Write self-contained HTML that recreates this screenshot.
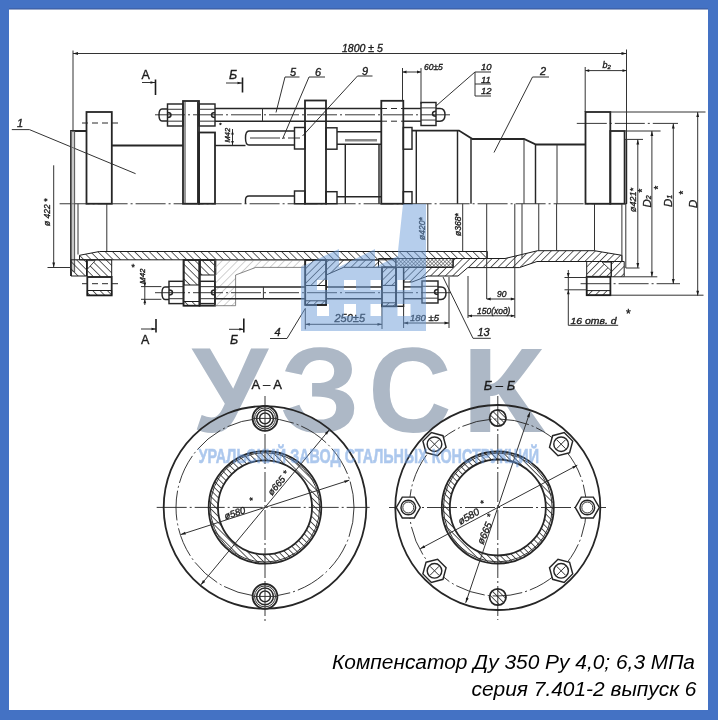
<!DOCTYPE html>
<html><head><meta charset="utf-8">
<style>
html,body{margin:0;padding:0;background:#fff;}
body{width:718px;height:720px;overflow:hidden;position:relative;}
svg{position:absolute;left:0;top:0;display:block;will-change:transform;}
.l{stroke:#262626;stroke-width:1.45;fill:none;}
.b{stroke:#262626;stroke-width:1.8;fill:none;}
.t{stroke:#333;stroke-width:1.0;fill:none;}
.c{stroke:#222;stroke-width:0.9;fill:none;stroke-dasharray:30 3 2 3;}
.d{stroke:#2a2a2a;stroke-width:1;fill:none;stroke-dasharray:6 4;}
.h1{fill:url(#h1);stroke:#1c1c1c;stroke-width:1;}
.h2{fill:url(#h2);stroke:#1c1c1c;stroke-width:1;}
.hf{fill:url(#h3);stroke:#555;stroke-width:0.7;}
.x{fill:url(#hx);stroke:#1c1c1c;stroke-width:1;}
.tx{font-family:"Liberation Sans",sans-serif;font-style:italic;fill:#1c1c1c;stroke:#1c1c1c;stroke-width:0.35;}
.wm{font-family:"Liberation Sans",sans-serif;font-weight:bold;}
.cap{position:absolute;right:23px;font-family:"Liberation Sans",sans-serif;font-style:italic;color:#000;white-space:nowrap;}
</style></head>
<body>
<svg width="718" height="720" viewBox="0 0 718 720">
<defs>
<pattern id="h1" width="5.2" height="5.2" patternUnits="userSpaceOnUse" patternTransform="rotate(-45)"><line x1="0" y1="0" x2="0" y2="5.2" stroke="#1c1c1c" stroke-width="1.35"/></pattern>
<pattern id="h2" width="5.2" height="5.2" patternUnits="userSpaceOnUse" patternTransform="rotate(45)"><line x1="0" y1="0" x2="0" y2="5.2" stroke="#1c1c1c" stroke-width="1.35"/></pattern>
<pattern id="h3" width="5.5" height="5.5" patternUnits="userSpaceOnUse" patternTransform="rotate(45)"><line x1="0" y1="0" x2="0" y2="5.5" stroke="#999" stroke-width="0.9"/></pattern>
<pattern id="hx" width="2.6" height="2.6" patternUnits="userSpaceOnUse" patternTransform="rotate(45)"><rect width="2.6" height="2.6" fill="#fff"/><line x1="0" y1="0" x2="0" y2="2.6" stroke="#222" stroke-width="0.9"/><line x1="0" y1="0" x2="2.6" y2="0" stroke="#222" stroke-width="0.9"/></pattern>
<pattern id="h4" width="4.4" height="4.4" patternUnits="userSpaceOnUse" patternTransform="rotate(-45)"><line x1="0" y1="0" x2="0" y2="4.4" stroke="#1c1c1c" stroke-width="1.45"/></pattern>
</defs>
<!-- border -->
<rect x="0" y="0" width="718" height="720" fill="#4472c4"/>
<rect x="9" y="9" width="699" height="701" fill="#fff"/>
<rect x="9" y="8.4" width="699" height="1.2" fill="#3a5796" opacity="0.85"/>

<!-- WATERMARK (under drawing) -->
<g id="wm">
<text class="wm" fill="#adb8c6" font-size="121" transform="translate(191.5,431.5) scale(1.014,1)">У</text>
<text class="wm" fill="#adb8c6" font-size="121" transform="translate(280.1,431.5) scale(1.056,1)">З</text>
<text class="wm" fill="#adb8c6" font-size="121" transform="translate(368.3,431.5) scale(0.954,1)">С</text>
<text class="wm" fill="#adb8c6" font-size="121" transform="translate(461.2,431.5) scale(1.136,1)">К</text>
</g>

<!-- TOP DRAWING -->
<g id="top">
<line class="t" x1="73" y1="53.5" x2="626.5" y2="53.5"/>
<path d="M73.0,53.5 L78.0,52.1 L78.0,54.9 Z" fill="#1c1c1c"/>
<path d="M626.5,53.5 L621.5,54.9 L621.5,52.1 Z" fill="#1c1c1c"/>
<line class="t" x1="73" y1="50.5" x2="73" y2="131"/>
<line class="t" x1="626.5" y1="49.5" x2="626.5" y2="204"/>
<text class="tx" x="342" y="51.5" font-size="10.5" text-anchor="start">1800 ± 5</text>
<line class="t" x1="585.2" y1="70.6" x2="626.5" y2="70.6"/>
<path d="M585.2,70.6 L589.2,69.2 L589.2,72.0 Z" fill="#1c1c1c"/>
<path d="M626.5,70.6 L622.5,72.0 L622.5,69.2 Z" fill="#1c1c1c"/>
<line class="t" x1="585.2" y1="67" x2="585.2" y2="112"/>
<text class="tx" x="602.5" y="68.3" font-size="9" text-anchor="start">b<tspan font-size="6" dy="1">2</tspan></text>
<line class="t" x1="402.5" y1="72" x2="421" y2="72"/>
<path d="M402.5,72.0 L406.5,70.6 L406.5,73.4 Z" fill="#1c1c1c"/>
<path d="M421.0,72.0 L417.0,73.4 L417.0,70.6 Z" fill="#1c1c1c"/>
<line class="t" x1="402.5" y1="68" x2="402.5" y2="100.8"/>
<line class="t" x1="421" y1="68" x2="421" y2="104"/>
<text class="tx" x="424" y="70.2" font-size="8.5" text-anchor="start">60±5</text>
<text class="tx" x="141.5" y="79" font-size="12.5" text-anchor="start"><tspan font-style="normal">A</tspan></text>
<line class="t" x1="142" y1="82.5" x2="155" y2="82.5"/>
<path d="M155.0,82.5 L150.5,83.8 L150.5,81.2 Z" fill="#1c1c1c"/>
<line x1="155.5" y1="79.5" x2="155.5" y2="95" stroke="#1c1c1c" stroke-width="1.6"/>
<text class="tx" x="229" y="79" font-size="12.5" text-anchor="start">Б</text>
<line class="t" x1="226" y1="83" x2="242" y2="83"/>
<path d="M242.0,83.0 L237.5,84.3 L237.5,81.7 Z" fill="#1c1c1c"/>
<line x1="242.5" y1="77.5" x2="242.5" y2="92.5" stroke="#1c1c1c" stroke-width="1.6"/>
<text class="tx" x="141" y="344" font-size="12.5" text-anchor="start"><tspan font-style="normal">A</tspan></text>
<line class="t" x1="141" y1="329" x2="156" y2="329"/>
<path d="M156.0,329.0 L151.5,330.3 L151.5,327.7 Z" fill="#1c1c1c"/>
<line x1="156" y1="319" x2="156" y2="332.5" stroke="#1c1c1c" stroke-width="1.6"/>
<text class="tx" x="230" y="344.3" font-size="12.5" text-anchor="start">Б</text>
<line class="t" x1="229" y1="329.3" x2="243.8" y2="329.3"/>
<path d="M243.8,329.3 L239.3,330.6 L239.3,328.0 Z" fill="#1c1c1c"/>
<line x1="243.8" y1="318.4" x2="243.8" y2="332.6" stroke="#1c1c1c" stroke-width="1.6"/>
<text class="tx" x="17" y="126.5" font-size="11" text-anchor="start">1</text>
<line class="t" x1="11.8" y1="129.6" x2="29.4" y2="129.6"/>
<line class="t" x1="29.4" y1="129.6" x2="135.6" y2="173.7"/>
<text class="tx" x="290" y="75.5" font-size="11" text-anchor="start">5</text>
<line class="t" x1="285" y1="77" x2="299.5" y2="77"/>
<line class="t" x1="285" y1="77" x2="276" y2="112.5"/>
<text class="tx" x="315" y="75.5" font-size="11" text-anchor="start">6</text>
<line class="t" x1="309" y1="77" x2="325" y2="77"/>
<line class="t" x1="309" y1="77" x2="282.5" y2="139"/>
<text class="tx" x="362" y="74.5" font-size="11" text-anchor="start">9</text>
<line class="t" x1="357.5" y1="76" x2="372.5" y2="76"/>
<line class="t" x1="357.5" y1="76" x2="302.5" y2="136"/>
<text class="tx" x="540" y="74.8" font-size="11" text-anchor="start">2</text>
<line class="t" x1="532.5" y1="77" x2="549" y2="77"/>
<line class="t" x1="532.5" y1="77" x2="494" y2="152.5"/>
<text class="tx" x="274.5" y="336" font-size="11" text-anchor="start">4</text>
<line class="t" x1="270" y1="338.5" x2="287" y2="338.5"/>
<line class="t" x1="287" y1="338.5" x2="305.3" y2="308.4"/>
<text class="tx" x="477.5" y="335.8" font-size="11" text-anchor="start">13</text>
<line class="t" x1="473" y1="338.3" x2="490.8" y2="338.3"/>
<line class="t" x1="473" y1="338.3" x2="443" y2="277"/>
<text class="tx" x="481" y="70" font-size="9.5" text-anchor="start">10</text>
<text class="tx" x="481" y="82.5" font-size="9.5" text-anchor="start">11</text>
<text class="tx" x="481" y="94.2" font-size="9.5" text-anchor="start">12</text>
<line class="t" x1="475" y1="72" x2="491" y2="72"/>
<line class="t" x1="475" y1="84" x2="491" y2="84"/>
<line class="t" x1="475" y1="96" x2="491" y2="96"/>
<line class="t" x1="475" y1="72" x2="475" y2="96"/>
<line class="t" x1="475" y1="72" x2="436" y2="106"/>
<line class="c" x1="59.6" y1="203.75" x2="628" y2="203.75"/>
<path class="b" d="M71,276 L71,131 L86.5,131"/>
<line class="t" x1="74.6" y1="131" x2="74.6" y2="272"/>
<rect x="71" y="131" width="3.6" height="141" fill="#999" opacity="0.55"/>
<rect class="b" x="86.5" y="112" width="25.3" height="91.75"/>
<line class="d" x1="82" y1="123" x2="121" y2="123"/>
<line class="b" x1="111.8" y1="145.5" x2="183" y2="145.5"/>
<line class="t" x1="78" y1="203.75" x2="78" y2="254.5"/>
<line class="t" x1="106.8" y1="203.75" x2="106.8" y2="251.5"/>
<path class="h1" d="M79.5,255.3 L99.4,251.5 L487.3,251.5 L487.3,258.5 L427.8,258.5 L427.8,259.8 L79.5,259.8 Z"/>
<path class="h1" d="M71,259.8 L86.5,259.8 L86.5,276 L71,276 Z"/>
<path class="h1" d="M87.3,259.8 L111.7,259.8 L111.7,277 L87.3,277 Z"/>
<rect class="b" x="87.3" y="277" width="24.4" height="18.4"/>
<path class="h1" d="M87.3,290.5 L111.7,290.5 L111.7,295.4 L87.3,295.4 Z"/>
<line class="d" x1="82" y1="283.7" x2="122" y2="283.7"/>
<line class="t" x1="53.7" y1="165.3" x2="53.7" y2="267.5"/>
<path d="M53.7,267.5 L52.3,262.5 L55.1,262.5 Z" fill="#1c1c1c"/>
<line class="t" x1="47.5" y1="267.5" x2="71" y2="267.5"/>
<text class="tx" x="50" y="226" font-size="8.5" text-anchor="start" transform="rotate(-90,50,226)">ø 422 *</text>
<rect class="b" x="183" y="101" width="16" height="102.75"/>
<rect class="b" x="199" y="132.5" width="16" height="71.25"/>
<path class="h1" d="M184,259.8 L199.2,259.8 L199.2,285 L184,285 Z"/>
<path class="h1" d="M200.2,259.8 L215.8,259.8 L215.8,275 L200.2,275 Z"/>
<path class="l" d="M167.5,109 L162,109 Q159,109 159,115 Q159,121 162,121 L167.5,121"/>
<rect class="l" x="167.5" y="104" width="15.5" height="22"/>
<rect class="l" x="199" y="104" width="16" height="22"/>
<line class="l" x1="215" y1="108.5" x2="381" y2="108.5"/>
<line class="l" x1="215" y1="121.2" x2="381" y2="121.2"/>
<line class="t" x1="262.5" y1="108.5" x2="262.5" y2="121.2"/>
<line class="d" x1="381" y1="108.5" x2="403" y2="108.5"/>
<line class="d" x1="381" y1="121.2" x2="403" y2="121.2"/>
<line class="l" x1="403" y1="108.5" x2="421" y2="108.5"/>
<line class="l" x1="403" y1="121.2" x2="421" y2="121.2"/>
<line class="c" x1="155" y1="114.8" x2="450" y2="114.8"/>
<rect class="l" x="421" y="102.5" width="15" height="23"/>
<path class="l" d="M436,108.5 L440,108.5 Q445,108.5 445,114.8 Q445,121.2 440,121.2 L436,121.2"/>
<rect class="b" x="305" y="100.5" width="21" height="103.25"/>
<path class="l" d="M294.5,131 L249,131 Q245.5,131 245.5,138 Q245.5,145 249,145 L294.5,145"/>
<line class="l" x1="215" y1="145.5" x2="245.5" y2="145.5"/>
<rect class="l" x="294.5" y="127.5" width="10.5" height="21.5"/>
<rect class="l" x="326" y="127.8" width="11" height="21.4"/>
<line class="l" x1="337" y1="131.7" x2="381" y2="131.7"/>
<line class="l" x1="337" y1="144.2" x2="381" y2="144.2"/>
<rect x="345" y="139" width="32" height="2.5" fill="#888"/>
<line class="l" x1="345.3" y1="144.2" x2="345.3" y2="203.75"/>
<line class="l" x1="379" y1="144.2" x2="379" y2="203.75"/>
<line class="c" x1="250" y1="138" x2="300" y2="138"/>
<path class="l" d="M294.5,196 L249,196 Q245.5,196 245.5,200 L245.5,203.75"/>
<rect class="l" x="294.5" y="191" width="10.5" height="12.75"/>
<rect class="l" x="326" y="191.7" width="11" height="12"/>
<line class="l" x1="337" y1="196.7" x2="381" y2="196.7"/>
<rect class="b" x="381.3" y="100.8" width="22" height="102.95"/>
<rect class="l" x="403.3" y="127.5" width="8.7" height="21.7"/>
<rect class="l" x="403.3" y="191.7" width="8.7" height="12"/>
<path class="b" d="M412,130.6 L459,130.6 L472.5,139 L524,139 L536,144.5 L585.5,144.5"/>
<line class="l" x1="416.3" y1="130.6" x2="416.3" y2="203.75"/>
<line class="l" x1="457.5" y1="130.6" x2="457.5" y2="203.75"/>
<line class="l" x1="471" y1="139" x2="471" y2="203.75"/>
<line class="t" x1="524" y1="139" x2="524" y2="203.75"/>
<line class="l" x1="535.5" y1="144.5" x2="535.5" y2="203.75"/>
<line class="t" x1="557" y1="144.5" x2="557" y2="203.75"/>
<rect class="b" x="585.5" y="112" width="24.8" height="91.75"/>
<rect class="b" x="610.3" y="131" width="14.3" height="72.75"/>
<line class="l" x1="626.5" y1="139.4" x2="626.5" y2="203.75"/>
<line class="c" x1="576.8" y1="123.4" x2="678" y2="123.4"/>
<line class="t" x1="610.3" y1="112" x2="705.5" y2="112"/>
<line class="t" x1="624.6" y1="131" x2="660.6" y2="131"/>
<line class="t" x1="624.6" y1="139.4" x2="643" y2="139.4"/>
<line class="t" x1="637.8" y1="139.4" x2="637.8" y2="268"/>
<path d="M637.8,139.4 L639.2,144.4 L636.4,144.4 Z" fill="#1c1c1c"/>
<path d="M637.8,268.0 L636.4,263.0 L639.2,263.0 Z" fill="#1c1c1c"/>
<line class="t" x1="651.9" y1="131" x2="651.9" y2="276.75"/>
<path d="M651.9,131.0 L653.3,136.0 L650.5,136.0 Z" fill="#1c1c1c"/>
<path d="M651.9,276.8 L650.5,271.8 L653.3,271.8 Z" fill="#1c1c1c"/>
<line class="t" x1="673.3" y1="123.4" x2="673.3" y2="283.9"/>
<path d="M673.3,123.4 L674.7,128.4 L671.9,128.4 Z" fill="#1c1c1c"/>
<path d="M673.3,283.9 L671.9,278.9 L674.7,278.9 Z" fill="#1c1c1c"/>
<line class="t" x1="697.7" y1="112" x2="697.7" y2="295.7"/>
<path d="M697.7,112.0 L699.1,117.0 L696.3,117.0 Z" fill="#1c1c1c"/>
<path d="M697.7,295.7 L696.3,290.7 L699.1,290.7 Z" fill="#1c1c1c"/>
<text class="tx" x="636" y="212" font-size="9" text-anchor="start" transform="rotate(-90,636,212)">ø421*</text>
<text class="tx" x="650.5" y="207.5" font-size="11.5" text-anchor="start" transform="rotate(-90,650.5,207.5)">D<tspan font-size="7">2</tspan></text>
<text class="tx" x="646" y="193" font-size="10" text-anchor="start" transform="rotate(-90,646,193)">*</text>
<text class="tx" x="671.5" y="207" font-size="11.5" text-anchor="start" transform="rotate(-90,671.5,207)">D<tspan font-size="7">1</tspan></text>
<text class="tx" x="662" y="190" font-size="10" text-anchor="start" transform="rotate(-90,662,190)">*</text>
<text class="tx" x="696.5" y="208" font-size="11.5" text-anchor="start" transform="rotate(-90,696.5,208)">D</text>
<text class="tx" x="687" y="195" font-size="10" text-anchor="start" transform="rotate(-90,687,195)">*</text>
<rect class="b" x="183.5" y="260" width="16.1" height="45.7"/>
<rect class="b" x="199.6" y="260" width="15.3" height="45.7"/>
<path class="h1" d="M183.5,301.5 L199.6,301.5 L199.6,305.7 L183.5,305.7 Z"/>
<path class="hf" d="M214.9,260 L305.2,260 L305.2,267.4 L255.8,267.4 L235.6,275 L235.6,305.7 L214.9,305.7 Z"/>
<path class="h2" d="M326.1,260 L378.5,260 L378.5,267.3 L343.7,267.3 L326.1,275 Z"/>
<path class="h2" d="M305.2,260 L326.1,260 L326.1,285.5 L305.2,285.5 Z"/>
<rect class="b" x="305.2" y="260" width="20.9" height="45"/>
<path class="h2" d="M305.2,300.8 L326.1,300.8 L326.1,305 L305.2,305 Z"/>
<path class="h1" d="M378.5,258.5 L396,258.5 L396,267.3 L378.5,267.3 Z"/>
<path class="h2" d="M382,267.3 L396,267.3 L396,285.4 L382,285.4 Z"/>
<rect class="b" x="382" y="267.3" width="14" height="39"/>
<path class="h2" d="M382,302.8 L396,302.8 L396,306.3 L382,306.3 Z"/>
<rect class="l" x="396" y="267.3" width="7.6" height="39"/>
<path class="x" d="M396,258.5 L453.1,258.5 L453.1,267.3 L396,267.3 Z"/>
<path class="h2" d="M403.6,267.3 L453.1,267.3 L453.1,258.5 L505,258.5 L537.7,250.7 L594.3,250.7 L621.9,255.3 L621.9,261.5 L536.9,261.5 L519.4,267.6 L467.8,267.6 L458,276 L427.8,276 L412,282 L403.6,282 Z"/>
<path class="h2" d="M586.7,261.5 L611.2,261.5 L611.2,276.8 L586.7,276.8 Z"/>
<path class="h2" d="M611.2,261.5 L624.2,261.5 L624.2,276.8 L611.2,276.8 Z"/>
<path d="M602,262.2 L611,262.2 L611,270.5 Z" fill="#fff" stroke="#1c1c1c" stroke-width="0.8"/>
<path d="M87.5,260.6 L95.2,260.6 L87.5,269 Z" fill="#fff" stroke="#1c1c1c" stroke-width="0.8"/>
<rect class="b" x="586.7" y="276.8" width="23.7" height="18.4"/>
<path class="h2" d="M586.7,290.6 L610.4,290.6 L610.4,295.2 L586.7,295.2 Z"/>
<line class="c" x1="580.6" y1="283.7" x2="680" y2="283.7"/>
<line class="t" x1="621.9" y1="203.75" x2="621.9" y2="261.5"/>
<line class="t" x1="625.8" y1="203.75" x2="625.8" y2="268"/>
<line class="t" x1="625.8" y1="268" x2="639.5" y2="268"/>
<line class="t" x1="624.2" y1="276.8" x2="657.3" y2="276.8"/>
<line class="t" x1="610.4" y1="295.2" x2="703.5" y2="295.2"/>
<line class="t" x1="564.5" y1="277.5" x2="586.7" y2="277.5"/>
<line class="t" x1="564.5" y1="289.8" x2="586.7" y2="289.8"/>
<line class="t" x1="568.3" y1="270" x2="568.3" y2="325.3"/>
<path d="M568.3,277.5 L566.9,273.0 L569.7,273.0 Z" fill="#1c1c1c"/>
<path d="M568.3,289.8 L569.7,294.3 L566.9,294.3 Z" fill="#1c1c1c"/>
<line class="t" x1="568.3" y1="325.3" x2="618.2" y2="325.3"/>
<text class="tx" x="570.5" y="323.8" font-size="9.5" textLength="46" lengthAdjust="spacingAndGlyphs">16 отв. d</text>
<text class="tx" x="625.5" y="318" font-size="12" text-anchor="start">*</text>
<path class="l" d="M169,286.9 L165,286.9 Q162,286.9 162,293 Q162,299.4 165,299.4 L169,299.4"/>
<rect class="l" x="169" y="281.3" width="14.5" height="22.3"/>
<rect class="l" x="199.6" y="281.3" width="15.3" height="22.3"/>
<line class="l" x1="214.9" y1="286.9" x2="305.2" y2="286.9"/>
<line class="l" x1="214.9" y1="298.7" x2="305.2" y2="298.7"/>
<line class="t" x1="263.4" y1="286.9" x2="263.4" y2="298.7"/>
<line class="l" x1="326.1" y1="286.9" x2="382" y2="286.9"/>
<line class="l" x1="326.1" y1="298.7" x2="382" y2="298.7"/>
<line class="l" x1="403.6" y1="286.9" x2="422" y2="286.9"/>
<line class="l" x1="403.6" y1="298.7" x2="422" y2="298.7"/>
<rect class="l" x="422" y="281" width="16" height="22"/>
<path class="l" d="M438,286.9 L441,286.9 Q446,286.9 446,293 Q446,299.4 441,299.4 L438,299.4"/>
<line class="c" x1="155" y1="292.7" x2="452" y2="292.7"/>
<line class="t" x1="462.7" y1="203.75" x2="462.7" y2="251.5"/>
<line class="t" x1="486.7" y1="203.75" x2="486.7" y2="299"/>
<line class="t" x1="514.8" y1="203.75" x2="514.8" y2="318"/>
<line class="t" x1="522" y1="203.75" x2="522" y2="258.5"/>
<line class="t" x1="538.75" y1="203.75" x2="538.75" y2="251"/>
<line class="t" x1="556.6" y1="203.75" x2="556.6" y2="250.7"/>
<line class="t" x1="594.5" y1="203.75" x2="594.5" y2="250.7"/>
<line class="t" x1="449" y1="277" x2="449" y2="328"/>
<line class="t" x1="427.8" y1="203.75" x2="427.8" y2="251.5"/>
<line class="t" x1="468" y1="276" x2="468" y2="318"/>
<line class="t" x1="141" y1="286.6" x2="161.4" y2="286.6"/>
<line class="t" x1="141" y1="299.3" x2="161.4" y2="299.3"/>
<line class="t" x1="144.8" y1="278" x2="144.8" y2="305"/>
<path d="M144.8,286.6 L143.4,282.6 L146.2,282.6 Z" fill="#1c1c1c"/>
<path d="M144.8,299.3 L146.2,303.3 L143.4,303.3 Z" fill="#1c1c1c"/>
<text class="tx" x="145" y="284" font-size="8" text-anchor="start" transform="rotate(-90,145,284)">M42</text>
<text class="tx" x="131" y="270" font-size="9" text-anchor="start">*</text>
<line class="t" x1="232.5" y1="129" x2="232.5" y2="145"/>
<path d="M232.5,131.0 L233.9,134.5 L231.1,134.5 Z" fill="#1c1c1c"/>
<path d="M232.5,144.5 L231.1,141.0 L233.9,141.0 Z" fill="#1c1c1c"/>
<text class="tx" x="229.5" y="142.5" font-size="7.5" text-anchor="start" transform="rotate(-90,229.5,142.5)">M42</text>
<text class="tx" x="219" y="127" font-size="6" text-anchor="start">*</text>
<line class="t" x1="305.3" y1="308.4" x2="305.3" y2="329.3"/>
<line class="t" x1="305.3" y1="324.3" x2="382" y2="324.3"/>
<path d="M305.3,324.3 L309.8,322.9 L309.8,325.7 Z" fill="#1c1c1c"/>
<path d="M382.0,324.3 L377.5,325.7 L377.5,322.9 Z" fill="#1c1c1c"/>
<line class="t" x1="382" y1="306" x2="382" y2="329"/>
<text class="tx" x="334.5" y="321.5" font-size="11" text-anchor="start">250±5</text>
<line class="t" x1="403.6" y1="306" x2="403.6" y2="328"/>
<line class="t" x1="403.6" y1="323" x2="449" y2="323"/>
<path d="M403.6,323.0 L408.1,321.6 L408.1,324.4 Z" fill="#1c1c1c"/>
<path d="M449.0,323.0 L444.5,324.4 L444.5,321.6 Z" fill="#1c1c1c"/>
<text class="tx" x="410" y="320.5" font-size="9.5" text-anchor="start">180 ±5</text>
<line class="t" x1="486.7" y1="299" x2="514.8" y2="299"/>
<path d="M486.7,299.0 L490.7,297.6 L490.7,300.4 Z" fill="#1c1c1c"/>
<path d="M514.8,299.0 L510.8,300.4 L510.8,297.6 Z" fill="#1c1c1c"/>
<text class="tx" x="497" y="296.8" font-size="8.5" text-anchor="start">90</text>
<line class="t" x1="468" y1="315.8" x2="514.8" y2="315.8"/>
<path d="M468.0,315.8 L472.0,314.4 L472.0,317.2 Z" fill="#1c1c1c"/>
<path d="M514.8,315.8 L510.8,317.2 L510.8,314.4 Z" fill="#1c1c1c"/>
<text class="tx" x="477" y="313.5" font-size="8.5" text-anchor="start">150(ход)</text>
<text class="tx" x="461" y="236" font-size="8.5" text-anchor="start" transform="rotate(-90,461,236)">ø368*</text>
<text class="tx" x="425" y="240" font-size="8.5" text-anchor="start" transform="rotate(-90,425,240)">ø420*</text>
<line class="t" x1="167.5" y1="109.28" x2="183" y2="109.28"/>
<line class="t" x1="167.5" y1="121.16" x2="183" y2="121.16"/>
<path class="l" d="M167.5,112.5 Q171.0,112.5 171.0,115.0 Q171.0,117.5 167.5,117.5"/>
<line class="t" x1="199" y1="109.28" x2="215" y2="109.28"/>
<line class="t" x1="199" y1="121.16" x2="215" y2="121.16"/>
<path class="l" d="M215,112.5 Q211.5,112.5 211.5,115.0 Q211.5,117.5 215,117.5"/>
<line class="t" x1="421" y1="107.9" x2="436" y2="107.9"/>
<line class="t" x1="421" y1="120.05" x2="436" y2="120.05"/>
<path class="l" d="M436,111.25 Q432.5,111.25 432.5,113.75 Q432.5,116.25 436,116.25"/>
<line class="t" x1="169" y1="286.652" x2="183.5" y2="286.652"/>
<line class="t" x1="169" y1="298.694" x2="183.5" y2="298.694"/>
<path class="l" d="M169,289.95000000000005 Q172.5,289.95000000000005 172.5,292.45000000000005 Q172.5,294.95000000000005 169,294.95000000000005"/>
<line class="t" x1="199.6" y1="286.652" x2="214.9" y2="286.652"/>
<line class="t" x1="199.6" y1="298.694" x2="214.9" y2="298.694"/>
<path class="l" d="M214.9,289.95000000000005 Q211.4,289.95000000000005 211.4,292.45000000000005 Q211.4,294.95000000000005 214.9,294.95000000000005"/>
<line class="t" x1="422" y1="286.28" x2="438" y2="286.28"/>
<line class="t" x1="422" y1="298.16" x2="438" y2="298.16"/>
<path class="l" d="M438,289.5 Q434.5,289.5 434.5,292.0 Q434.5,294.5 438,294.5"/>
<line class="t" x1="185" y1="101.5" x2="185" y2="203.75"/>
<line class="t" x1="197.5" y1="101.5" x2="197.5" y2="203.75"/>
</g><!--/top-->

<!-- CIRCLES -->
<g id="circ">
<circle class="b" cx="265.0" cy="507.4" r="101.3" />
<circle class="c" cx="265.0" cy="507.4" r="89" />
<line class="c" x1="156.7" y1="507.4" x2="369.7" y2="507.4"/>
<line class="c" x1="265.0" y1="396.0" x2="265.0" y2="624.0"/>
<path d="M208.7,507.4 a56.3,56.3 0 1,0 112.6,0 a56.3,56.3 0 1,0 -112.6,0 Z M218,507.4 a47,47 0 1,0 94,0 a47,47 0 1,0 -94,0 Z" fill="url(#h4)" fill-rule="evenodd" stroke="none"/>
<circle class="b" cx="265.0" cy="507.4" r="56.3" />
<circle class="t" cx="265.0" cy="507.4" r="54.699999999999996" />
<circle class="b" cx="265.0" cy="507.4" r="47" />
<circle class="b" cx="265.0" cy="418.4" r="12.4" style="fill:#fff"/>
<circle class="t" cx="265.0" cy="418.4" r="10.5" />
<circle class="l" cx="265.0" cy="418.4" r="8.4" />
<circle class="l" cx="265.0" cy="418.4" r="5.4" />
<line class="t" x1="252.0" y1="418.4" x2="278.0" y2="418.4"/>
<line class="t" x1="265.0" y1="405.4" x2="265.0" y2="431.4"/>
<circle class="b" cx="265.0" cy="596.4" r="12.4" style="fill:#fff"/>
<circle class="t" cx="265.0" cy="596.4" r="10.5" />
<circle class="l" cx="265.0" cy="596.4" r="8.4" />
<circle class="l" cx="265.0" cy="596.4" r="5.4" />
<line class="t" x1="252.0" y1="596.4" x2="278.0" y2="596.4"/>
<line class="t" x1="265.0" y1="583.4" x2="265.0" y2="609.4"/>
<line class="t" x1="329.1" y1="430.0" x2="200.9" y2="584.8"/>
<path d="M329.1,430.0 L327.0,434.7 L324.8,432.9 Z" fill="#1c1c1c"/>
<path d="M200.9,584.8 L203.0,580.1 L205.2,581.9 Z" fill="#1c1c1c"/>
<line class="t" x1="349.3" y1="480.2" x2="180.7" y2="534.6"/>
<path d="M349.3,480.2 L345.0,483.0 L344.1,480.4 Z" fill="#1c1c1c"/>
<path d="M180.7,534.6 L185.0,531.8 L185.9,534.4 Z" fill="#1c1c1c"/>
<text class="tx" x="225.5" y="519.5" font-size="9.5" transform="rotate(-18,225.5,519.5)">ø580</text>
<text class="tx" x="250.5" y="504.0" font-size="9" transform="rotate(-18,250.5,504.0)">*</text>
<text class="tx" x="272.0" y="496.0" font-size="9.5" transform="rotate(-50,272.0,496.0)">ø665</text>
<text class="tx" x="287.0" y="476.5" font-size="9" transform="rotate(-50,287.0,476.5)">*</text>
<text class="tx" x="251.5" y="389.2" font-size="13"><tspan font-style="normal">A – A</tspan></text>
<circle class="b" cx="497.8" cy="507.5" r="102.5" />
<circle class="c" cx="497.8" cy="507.5" r="88.5" />
<line class="c" x1="389.0" y1="507.5" x2="606.0" y2="507.5"/>
<line class="c" x1="497.8" y1="396.0" x2="497.8" y2="620.0"/>
<path d="M441.8,507.5 a56,56 0 1,0 112,0 a56,56 0 1,0 -112,0 Z M449.8,507.5 a48,48 0 1,0 96,0 a48,48 0 1,0 -96,0 Z" fill="url(#h4)" fill-rule="evenodd" stroke="none"/>
<circle class="b" cx="497.8" cy="507.5" r="56" />
<circle class="t" cx="497.8" cy="507.5" r="54.4" />
<circle class="b" cx="497.8" cy="507.5" r="48" />
<circle class="b" cx="497.8" cy="418.0" r="8.2" style="fill:url(#h4)"/>
<polygon class="l" points="569.6,452.7 558.0,455.8 549.5,447.3 552.6,435.7 564.2,432.6 572.7,441.1" style="fill:#fff"/>
<circle class="l" cx="561.1" cy="444.2" r="7.3" />
<line class="t" x1="556.6" y1="439.7" x2="565.6" y2="448.7"/>
<line class="t" x1="556.6" y1="448.7" x2="565.6" y2="439.7"/>
<polygon class="l" points="599.3,507.5 593.3,517.9 581.3,517.9 575.3,507.5 581.3,497.1 593.3,497.1" style="fill:#fff"/>
<circle class="l" cx="587.3" cy="507.5" r="7.3" />
<circle class="t" cx="587.3" cy="507.5" r="5.5" />
<polygon class="l" points="552.6,579.3 549.5,567.7 558.0,559.2 569.6,562.3 572.7,573.9 564.2,582.4" style="fill:#fff"/>
<circle class="l" cx="561.1" cy="570.8" r="7.3" />
<line class="t" x1="556.6" y1="566.3" x2="565.6" y2="575.3"/>
<line class="t" x1="556.6" y1="575.3" x2="565.6" y2="566.3"/>
<circle class="b" cx="497.8" cy="597.0" r="8.2" style="fill:url(#h4)"/>
<polygon class="l" points="426.0,562.3 437.6,559.2 446.1,567.7 443.0,579.3 431.4,582.4 422.9,573.9" style="fill:#fff"/>
<circle class="l" cx="434.5" cy="570.8" r="7.3" />
<line class="t" x1="430.0" y1="566.3" x2="439.0" y2="575.3"/>
<line class="t" x1="430.0" y1="575.3" x2="439.0" y2="566.3"/>
<polygon class="l" points="420.3,507.5 414.3,517.9 402.3,517.9 396.3,507.5 402.3,497.1 414.3,497.1" style="fill:#fff"/>
<circle class="l" cx="408.3" cy="507.5" r="7.3" />
<circle class="t" cx="408.3" cy="507.5" r="5.5" />
<polygon class="l" points="443.0,435.7 446.1,447.3 437.6,455.8 426.0,452.7 422.9,441.1 431.4,432.6" style="fill:#fff"/>
<circle class="l" cx="434.5" cy="444.2" r="7.3" />
<line class="t" x1="430.0" y1="439.7" x2="439.0" y2="448.7"/>
<line class="t" x1="430.0" y1="448.7" x2="439.0" y2="439.7"/>
<line class="t" x1="529.9" y1="412.2" x2="465.7" y2="602.8"/>
<path d="M529.9,412.2 L529.6,417.4 L526.9,416.5 Z" fill="#1c1c1c"/>
<path d="M465.7,602.8 L466.0,597.6 L468.7,598.5 Z" fill="#1c1c1c"/>
<line class="t" x1="577.3" y1="465.2" x2="420.1" y2="548.8"/>
<path d="M577.3,465.2 L573.5,468.8 L572.2,466.4 Z" fill="#1c1c1c"/>
<path d="M420.1,548.8 L423.9,545.2 L425.2,547.7 Z" fill="#1c1c1c"/>
<text class="tx" x="460.5" y="525.0" font-size="10" transform="rotate(-30,460.5,525.0)">ø580</text>
<text class="tx" x="482.5" y="507.0" font-size="9" transform="rotate(-30,482.5,507.0)">*</text>
<text class="tx" x="483.0" y="545.0" font-size="10" transform="rotate(-66,483.0,545.0)">ø665</text>
<text class="tx" x="492.0" y="519.0" font-size="9" transform="rotate(-66,492.0,519.0)">*</text>
<text class="tx" x="483.8" y="390.0" font-size="13">Б – Б</text>
</g><!--/circ-->
<!-- overlay logo + subtitle -->
<g id="ov" opacity="0.5">
<path fill="#6d9dd9" fill-rule="evenodd" d="M301,331 L301,267 L339,249 L339,267 L375,249 L375,267 L398,256 L398,251 L403,204 L426,204 L426,331 Z
M317,280 h11 v10 h-11 Z M344,280 h12 v10 h-12 Z M370.5,280 h11 v10 h-11 Z M397.5,280 h13 v10 h-13 Z
M317,304 h12 v12 h-12 Z M344,304 h12 v12 h-12 Z M370.5,304 h11 v12 h-11 Z M397.5,304 h13 v12 h-13 Z"/>
<text class="wm" fill="#5c92dc" stroke="#5c92dc" stroke-width="0.6" font-size="19.3" x="198.5" y="462.8" textLength="340.5" lengthAdjust="spacingAndGlyphs">УРАЛЬСКИЙ ЗАВОД СТАЛЬНЫХ КОНСТРУКЦИЙ</text>
</g>
</svg>
<svg width="718" height="720" viewBox="0 0 718 720" style="pointer-events:none">
<text x="332" y="669.3" font-family="Liberation Sans" font-style="italic" font-size="19.5" fill="#000" textLength="363" lengthAdjust="spacingAndGlyphs">Компенсатор Ду 350 Ру 4,0; 6,3 МПа</text>
<text x="471.5" y="695.5" font-family="Liberation Sans" font-style="italic" font-size="19.5" fill="#000" textLength="225" lengthAdjust="spacingAndGlyphs">серия 7.401-2 выпуск 6</text>
</svg>
</body></html>
